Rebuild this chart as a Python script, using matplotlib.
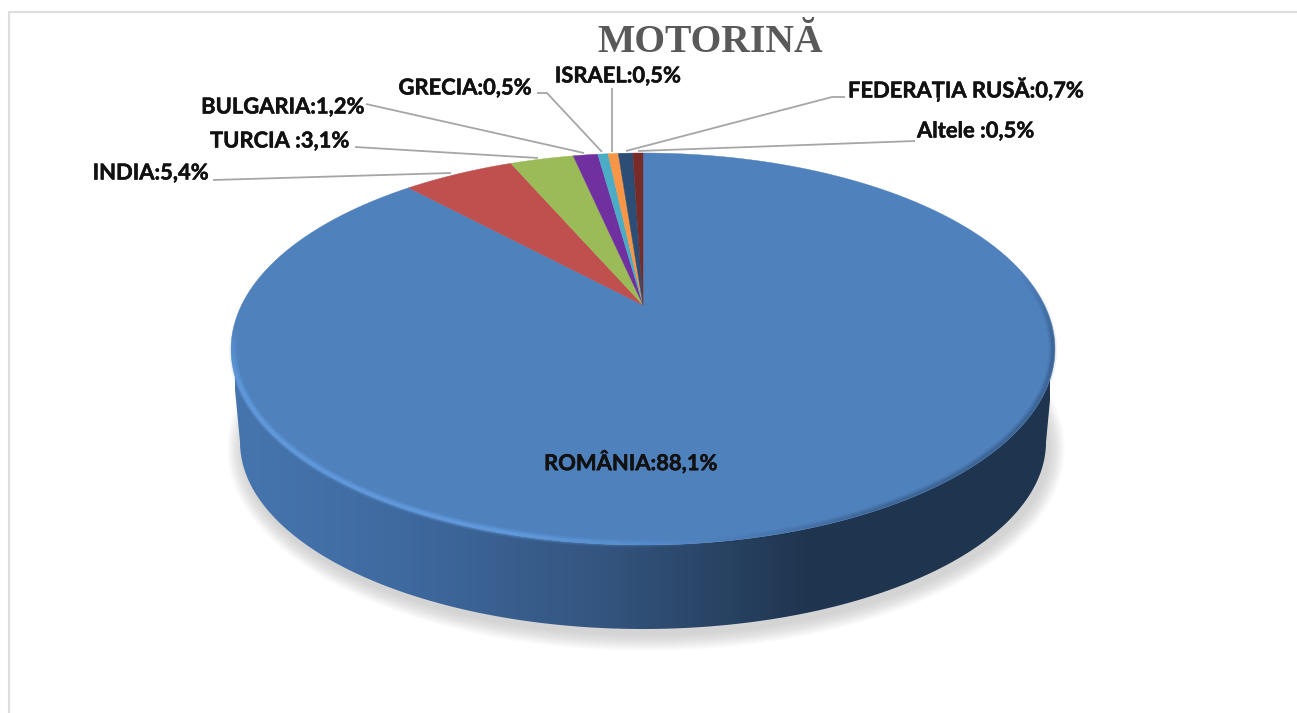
import numpy as np
import matplotlib
matplotlib.use("Agg")
import matplotlib.pyplot as plt
import matplotlib.patheffects as pe
from matplotlib.collections import LineCollection
from matplotlib.colors import LinearSegmentedColormap, to_rgb
from matplotlib.patches import Ellipse, Polygon

categories = ["ROMÂNIA", "INDIA", "TURCIA ", "BULGARIA", "GRECIA", "ISRAEL", "FEDERAȚIA RUSĂ", "Altele "]
values = [88.1, 5.4, 3.1, 1.2, 0.5, 0.5, 0.7, 0.5]
colors = ["#4F81BD", "#C0504D", "#9BBB59", "#7030A0", "#4BACC6", "#F79646", "#2C4D75", "#772C2A"]

# label anchor (x, y, ha) in picture pixels
label_pos = [
    (631, 462, "center"), (209, 173, "right"), (350, 141, "right"), (365, 107, "right"),
    (532, 88, "right"), (618, 76, "center"), (848, 89, "left"), (917, 131, "left"),
]
# leader lines in picture pixels, first point at the label
leaders = [
    None,
    [(213, 180), (451, 173)],
    [(355, 147), (538, 158)],
    [(366, 104), (584, 153)],
    [(537, 93), (547, 93), (602, 152)],
    [(612, 88), (612, 152)],
    [(845, 97), (832, 97), (626, 151)],
    [(915, 141), (638, 151)],
]

# tilted disc: unit circle to picture through a projective map
CX, A, B0, A_Y, C = 643.0, 401.4, 305.0, -117.65, 0.2245


def disc(theta_deg):
    t = np.radians(theta_deg)
    u, v = np.sin(t), np.cos(t)
    w = 1 + C * v
    return CX + A * u / w, (A_Y * v + B0) / w


fig = plt.figure(figsize=(12.97, 7.13), dpi=100)
ax = fig.add_axes([0, 0, 1, 1])
ax.set_xlim(0, 1297)
ax.set_ylim(713, 0)
ax.axis("off")

# chart frame
ax.plot([8.5, 8.5, 1297], [713, 11.5, 11.5], color="#DDDDDD", lw=1.5, zorder=1)

# soft shadow under the disc
for k in range(16, -1, -1):
    ax.add_patch(Ellipse((646, 449), 2 * (403 + k), 2 * (186 + k), fc="#7F7F7F", ec="none", alpha=0.02, zorder=2))

# side wall with left to right shading
th_top = np.linspace(103, 257, 200)
xt, yt = disc(th_top)
ph = np.radians(np.linspace(0, 180, 200))
xb, yb = 643 + 403 * np.cos(ph), 442 + 187 * np.sin(ph)
wall = Polygon(np.column_stack([np.r_[xt, xb[::-1]], np.r_[yt, yb[::-1]]]), closed=True, fc="none", ec="none", zorder=3)
ax.add_patch(wall)
wall_cmap = LinearSegmentedColormap.from_list(
    "wall", [(0, "#4675AE"), (0.2, "#3F6AA0"), (0.45, "#34557F"), (0.7, "#203650"), (1, "#1F344F")]
)
img = ax.imshow(np.linspace(0, 1, 400)[None, :], extent=(235, 1050, 640, 340), aspect="auto", cmap=wall_cmap, zorder=3)
img.set_clip_path(wall)
ax.set_xlim(0, 1297)
ax.set_ylim(713, 0)

# pie slices on the top face
edges = np.r_[0, np.cumsum(values)] / np.sum(values) * 360
for i, name in enumerate(categories):
    th = np.linspace(edges[i], edges[i + 1], max(int(edges[i + 1] - edges[i]) * 2, 4))
    x, y = disc(th)
    ax.fill(np.r_[CX, x], np.r_[B0, y], fc=colors[i], ec=colors[i], lw=0.3, zorder=4)

# rim: dark on the right, light bevel on the left
th_rim = np.linspace(80, 264, 368)
xr, yr = disc(th_rim)
pts = np.column_stack([CX + (xr - CX) * 0.995, 349 + (yr - 349) * 0.992])
segs = np.stack([pts[:-1], pts[1:]], axis=1)
dark, light = np.array(to_rgb("#1F344F")), np.array(to_rgb("#66A3E8"))
rim_rgba = []
for t in th_rim[:-1]:
    if t < 100:
        rim_rgba.append((*dark, 0.35 * (t - 80) / 20))
    elif t < 150:
        rim_rgba.append((*dark, 0.35))
    elif t < 172:
        rim_rgba.append((*dark, 0.35 * (172 - t) / 22))
    elif t < 195:
        rim_rgba.append((*light, (t - 172) / 23))
    elif t < 245:
        rim_rgba.append((*light, 1.0))
    else:
        rim_rgba.append((*light, (264 - t) / 19))
for lw, a in [(6, 0.2), (4, 0.35), (2, 0.5)]:
    c = np.array(rim_rgba)
    c[:, 3] *= a
    ax.add_collection(LineCollection(segs, colors=c, linewidths=lw, zorder=5, capstyle="butt"))

# leader lines and labels
for i, name in enumerate(categories):
    if leaders[i] is not None:
        p = np.array(leaders[i])
        ax.plot(p[:, 0], p[:, 1], color="#A6A6A6", lw=1.3, zorder=6, solid_capstyle="butt")
    lx, ly, ha = label_pos[i]
    t = ax.text(lx, ly, f"{name}:{str(values[i]).replace('.', ',')}%", ha=ha, va="center",
                family="Lato", weight="bold", fontsize=15.8, color="#111111", zorder=7)
    t.set_path_effects([pe.withStroke(linewidth=0.35, foreground="#111111")])

ax.text(710, 42, "MOTORINĂ", ha="center", va="center", family="Liberation Serif", weight="bold",
        fontsize=28.5, color="#595959", zorder=7)

fig.savefig("out.png", dpi=100)
